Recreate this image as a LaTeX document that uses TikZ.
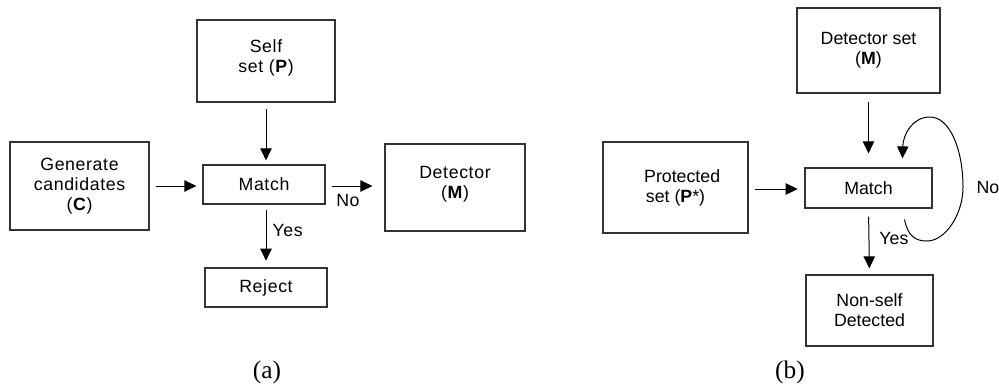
\documentclass[tikz,border=0pt]{standalone}
\usepackage{fontspec}
\setmainfont{Liberation Sans}
\newfontfamily\spacedsans[LetterSpace=3.5]{Liberation Sans}
\newfontfamily\captionserif{Liberation Serif}
\usetikzlibrary{arrows.meta}
\newdimen\pxunit \pxunit=0.75pt
\tikzset{box/.style={draw=black!80, line width=0.9pt, align=center, inner sep=0pt,
         font=\fontsize{13.3}{15}\selectfont},
         lbox/.style={box, font=\spacedsans\fontsize{13.3}{15}\selectfont},
         arr/.style={-{Triangle[length=9pt,width=8.5pt]}, line width=0.75pt},
         tag/.style={inner sep=0pt, font=\fontsize{13.3}{15}\selectfont},
         ltag/.style={tag, font=\spacedsans\fontsize{13.3}{15}\selectfont},
         capt/.style={font=\captionserif\fontsize{19}{22}\selectfont}}

\begin{document}
\begin{tikzpicture}[x=0.75pt, y=-0.75pt]
  \useasboundingbox (0,0) rectangle (999,387);

  % (a)
  \node[lbox, minimum width=138\pxunit, minimum height=82\pxunit] (selfset) at (266,61) {Self\\set (\textbf{P})\\[-8pt]};
  \node[lbox, minimum width=139\pxunit, minimum height=88\pxunit] (gen) at (79.5,186) {Generate\\candidates\\(\textbf{C})};
  \node[lbox, minimum width=122\pxunit, minimum height=39\pxunit] (matcha) at (264,184.5) {Match};
  \node[lbox, minimum width=140\pxunit, minimum height=87\pxunit] (deta) at (455,187.5) {Detector\\(\textbf{M})\\[-8pt]};
  \node[lbox, minimum width=122\pxunit, minimum height=39\pxunit] (reject) at (266,287.5) {Reject};

  \draw[arr, shorten <=5pt, shorten >=3pt] (selfset.south -| 266,0) -- (matcha.north -| 266,0);
  \draw[arr, shorten <=5pt, shorten >=4.5pt] (gen.east |- 0,186) -- (matcha.west |- 0,186);
  \draw[arr, shorten <=5pt, shorten >=9pt] (matcha.east |- 0,186) -- (deta.west |- 0,186)
    node[ltag, pos=0.38, below=8\pxunit] {No};
  \draw[arr, shorten <=4pt, shorten >=5pt] (matcha.south -| 266,0) -- (reject.north)
    node[ltag, pos=0.42, anchor=west, xshift=6\pxunit] {Yes};

  \node[capt] (capa) at (267,372) {(a)};

  % (b)
  \node[box, minimum width=143\pxunit, minimum height=85\pxunit] (detset) at (868.5,50.5) {Detector set\\(\textbf{M})};
  \node[box, minimum width=145\pxunit, minimum height=91\pxunit] (prot) at (675.5,187.5) {\hspace*{10pt}Protected\\set (\textbf{P}*)};
  \node[box, minimum width=127\pxunit, minimum height=40\pxunit] (matchb) at (868.5,188) {Match};
  \node[box, minimum width=127\pxunit, minimum height=71\pxunit] (nonself) at (869.5,310.5) {Non-self\\Detected};

  \draw[arr, shorten <=6pt, shorten >=10.5pt] (detset.south) -- (matchb.north);
  \draw[arr, shorten <=4.5pt, shorten >=5pt] (prot.east |- 0,189) -- (matchb.west |- 0,189);
  \draw[arr, shorten <=6pt, shorten >=4.5pt] (matchb.south) -- (nonself.north)
    node[tag, pos=0.46, anchor=west, xshift=10\pxunit] {Yes};
  \draw[arr] ([shift={(36,11)}]matchb.south)
    .. controls (908,236) and (915,241) .. (927,241)
    .. controls (945,241) and (963,215) .. (963,187) node[tag, anchor=west, xshift=13\pxunit] {No}
    .. controls (963,150) and (950,117) .. (930,117)
    .. controls (912,117) and (903,135) .. ([shift={(34,-9)}]matchb.north);

  \node[capt] (capb) at (790,372) {(b)};
\end{tikzpicture}
\end{document}
